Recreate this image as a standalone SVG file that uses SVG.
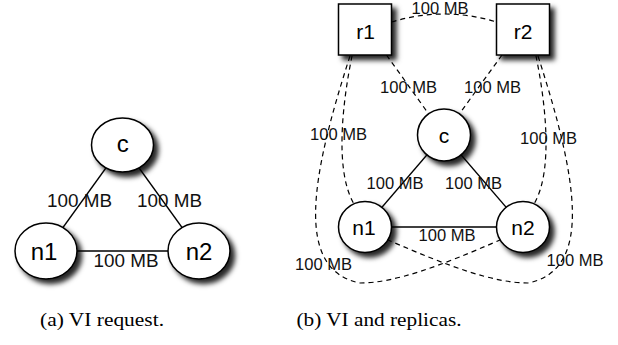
<svg xmlns="http://www.w3.org/2000/svg" width="618" height="345" viewBox="0 0 618 345">
<style>
.node{fill:#fff;stroke:#000;stroke-width:1.5;filter:url(#sh)}
.solid{fill:none;stroke:#000;stroke-width:1.3}
.dash{fill:none;stroke:#000;stroke-width:1.2;stroke-dasharray:5 4}
.nl{font-family:"Liberation Sans",Helvetica,Arial,sans-serif;fill:#000}
.lbl{font-family:"Liberation Sans",Helvetica,Arial,sans-serif;fill:#111}
.cap{font-family:"Liberation Serif","Times New Roman",serif;font-size:18px;fill:#000}
</style>
<defs>
<filter id="sh" x="-40%" y="-40%" width="180%" height="180%">
<feDropShadow dx="4.5" dy="4.5" stdDeviation="2.8" flood-color="#000" flood-opacity="0.85"/>
</filter>
</defs>
<rect width="618" height="345" fill="#fff"/>

<g id="connectors">
<line class="solid" x1="122.5" y1="145" x2="46" y2="251"/>
<line class="solid" x1="122.5" y1="145" x2="199" y2="251"/>
<line class="solid" x1="46" y1="251" x2="199" y2="251"/>
<line class="solid" x1="444" y1="135" x2="365" y2="227"/>
<line class="solid" x1="444" y1="135" x2="523" y2="227"/>
<line class="solid" x1="365" y1="227" x2="523" y2="227"/>
<path class="dash" d="M391.5 22 Q444 6 496.5 22"/>
<line class="dash" x1="386.5" y1="55" x2="428" y2="113"/>
<line class="dash" x1="502" y1="55" x2="460" y2="113"/>
<path class="dash" d="M352 56 C343 100 334 170 354 204"/>
<path class="dash" d="M536 56 C545 100 554 170 534 204"/>
<path class="dash" d="M350 56 C310 180 295 270 360 283 C395 283 440 266 500 240"/>
<path class="dash" d="M538 56 C578 180 593 270 528 283 C493 283 448 266 388 240"/>
</g>

<g id="left-c"><ellipse class="node" cx="122.5" cy="145" rx="31" ry="27"/><text class="nl" x="122.8" y="151.7" font-size="24" text-anchor="middle">c</text></g>
<g id="left-n1"><ellipse class="node" cx="46" cy="251" rx="31" ry="28"/><text class="nl" x="44" y="259.5" font-size="24" text-anchor="middle">n1</text></g>
<g id="left-n2"><ellipse class="node" cx="199" cy="251" rx="31" ry="28"/><text class="nl" x="199" y="259.5" font-size="24" text-anchor="middle">n2</text></g>

<g id="right-r1"><rect class="node" x="338.5" y="4" width="53" height="51"/><text class="nl" x="365.5" y="38.5" font-size="21" text-anchor="middle">r1</text></g>
<g id="right-r2"><rect class="node" x="496.5" y="4" width="53" height="51"/><text class="nl" x="523" y="38.5" font-size="21" text-anchor="middle">r2</text></g>
<g id="right-c"><ellipse class="node" cx="444" cy="135" rx="26.5" ry="26"/><text class="nl" x="444" y="142.5" font-size="21" text-anchor="middle">c</text></g>
<g id="right-n1"><ellipse class="node" cx="365" cy="227" rx="26.5" ry="25.5"/><text class="nl" x="364" y="235" font-size="21" text-anchor="middle">n1</text></g>
<g id="right-n2"><ellipse class="node" cx="523" cy="227" rx="26.5" ry="25.5"/><text class="nl" x="523" y="235" font-size="21" text-anchor="middle">n2</text></g>

<g id="labels">
<text class="lbl" x="47" y="206.5" font-size="18" textLength="65" lengthAdjust="spacingAndGlyphs">100 MB</text>
<text class="lbl" x="137" y="206.5" font-size="18" textLength="65" lengthAdjust="spacingAndGlyphs">100 MB</text>
<text class="lbl" x="93.5" y="266.5" font-size="18" textLength="65" lengthAdjust="spacingAndGlyphs">100 MB</text>
<text class="lbl" x="411.5" y="13.5" font-size="16" textLength="57" lengthAdjust="spacingAndGlyphs">100 MB</text>
<text class="lbl" x="380" y="92.5" font-size="16" textLength="57" lengthAdjust="spacingAndGlyphs">100 MB</text>
<text class="lbl" x="464" y="92.5" font-size="16" textLength="57" lengthAdjust="spacingAndGlyphs">100 MB</text>
<text class="lbl" x="310" y="140" font-size="16" textLength="57" lengthAdjust="spacingAndGlyphs">100 MB</text>
<text class="lbl" x="520" y="143.5" font-size="16" textLength="57" lengthAdjust="spacingAndGlyphs">100 MB</text>
<text class="lbl" x="366.5" y="188.5" font-size="16" textLength="57" lengthAdjust="spacingAndGlyphs">100 MB</text>
<text class="lbl" x="445" y="188.5" font-size="16" textLength="57" lengthAdjust="spacingAndGlyphs">100 MB</text>
<text class="lbl" x="418.5" y="240.5" font-size="16" textLength="57" lengthAdjust="spacingAndGlyphs">100 MB</text>
<text class="lbl" x="295" y="269.5" font-size="16" textLength="57" lengthAdjust="spacingAndGlyphs">100 MB</text>
<text class="lbl" x="546.5" y="266" font-size="16" textLength="57" lengthAdjust="spacingAndGlyphs">100 MB</text>
</g>

<text class="cap" x="40" y="326" textLength="124" lengthAdjust="spacingAndGlyphs">(a) VI request.</text>
<text class="cap" x="296.5" y="326" textLength="165" lengthAdjust="spacingAndGlyphs">(b) VI and replicas.</text>
</svg>
